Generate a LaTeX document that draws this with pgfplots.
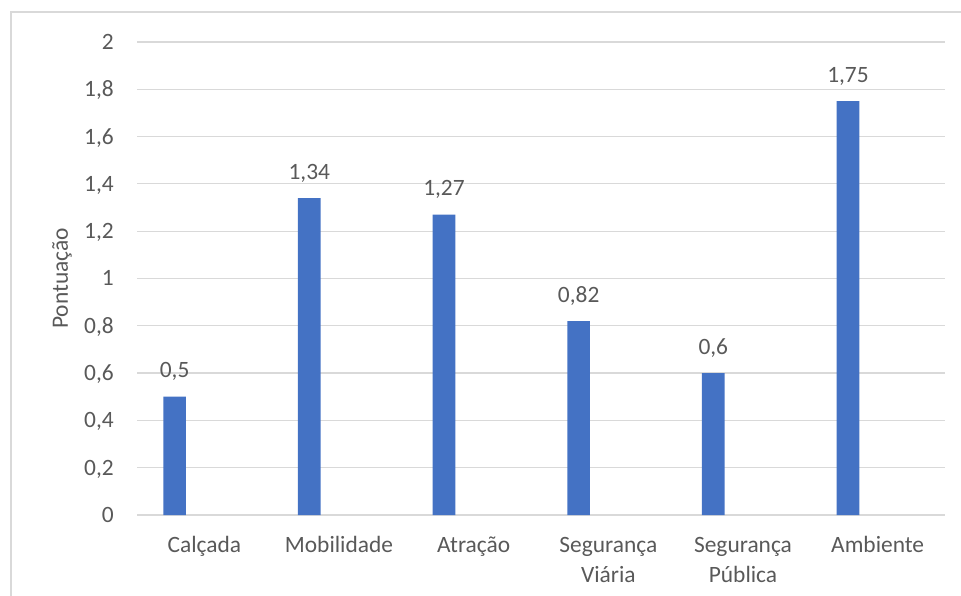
\documentclass[border=0pt]{standalone}
\usepackage{pgfplots}
\pgfplotsset{compat=1.18}
\usepackage{fontspec}
\setmainfont{Carlito}
\definecolor{txt}{HTML}{595959}
\definecolor{gridc}{HTML}{D9D9D9}
\definecolor{barblue}{HTML}{4472C4}
\newcommand{\two}[2]{\begin{tabular}[t]{@{}c@{}}#1\\#2\end{tabular}}
\begin{document}
\begin{tikzpicture}
\useasboundingbox (0,0) rectangle (961bp,596bp);
\begin{axis}[
  at={(137bp,81bp)}, anchor=south west,
  scale only axis, width=808bp, height=473bp,
  xmin=-0.5, xmax=5.5, ymin=0, ymax=2,
  ytick={0,0.2,0.4,0.6,0.8,1,1.2,1.4,1.6,1.8,2},
  xtick={0,1,2,3,4,5},
  xticklabels={Calçada, Mobilidade, Atração, {\two{Segurança}{Viária}}, {\two{Segurança}{Pública}}, Ambiente},
  major tick length=0pt,
  axis line style={draw=none},
  ymajorgrids, grid style={gridc, line width=1.2bp},
  font=\fontsize{23.5}{31}\selectfont,
  /pgf/number format/assume math mode=true,
  /pgf/number format/use comma,
  yticklabel style={anchor=base east, inner sep=0pt, xshift=-23bp, yshift=-7.5bp, text=txt},
  xticklabel style={anchor=base, inner sep=0pt, yshift=-37bp, text=txt},
  ylabel={Pontuação},
  every axis y label/.style={at={(axis description cs:-0.0928,0.5)}, rotate=90, anchor=center, text=txt},
  clip=false,
]
\addplot[ybar, fill=barblue, draw=none, bar width=22.7bp, bar shift=-29.7bp,
  nodes near coords={\pgfmathprintnumber{\pgfplotspointmeta}},
  every node near coord/.append style={anchor=base, inner sep=0pt, xshift=-29.7bp, yshift=19bp, text=txt}]
  coordinates {(0,0.5) (1,1.34) (2,1.27) (3,0.82) (4,0.6) (5,1.75)};
\end{axis}
\draw[gridc, line width=1.5bp] (11bp,0bp) -- (11bp,584bp) -- (961bp,584bp);
\end{tikzpicture}
\end{document}
